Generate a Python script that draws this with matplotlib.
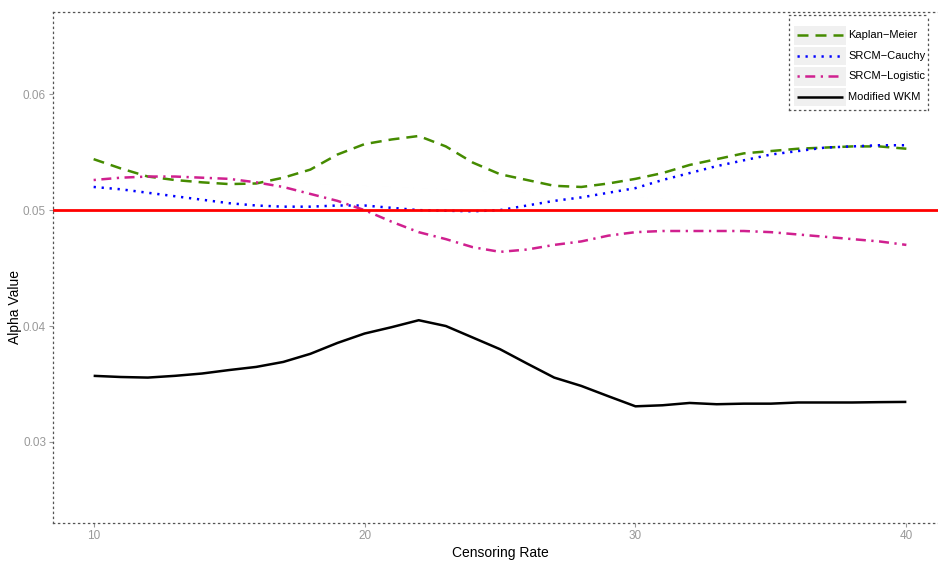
import matplotlib.pyplot as plt
from matplotlib.patches import Rectangle

plt.rcParams['font.family'] = ['Liberation Sans', 'DejaVu Sans']

# ----- Data -----
censoring_rate = list(range(10, 41))

kaplan_meier = [0.0544, 0.0536, 0.0529, 0.0526, 0.0524, 0.05225, 0.0523, 0.0528,
                0.0535, 0.0548, 0.0557, 0.0561, 0.0564, 0.0555, 0.0541, 0.0531,
                0.0526, 0.0521, 0.0520, 0.0523, 0.0527, 0.0532, 0.0539, 0.0544,
                0.0549, 0.0551, 0.0553, 0.0554, 0.0555, 0.0555, 0.0553]

srcm_cauchy = [0.0520, 0.0518, 0.0515, 0.0512, 0.0509, 0.0506, 0.0504, 0.0503,
               0.0503, 0.0504, 0.0504, 0.0502, 0.0500, 0.04995, 0.0499, 0.0500,
               0.0504, 0.0508, 0.0511, 0.0515, 0.0519, 0.0526, 0.0532, 0.0538,
               0.0543, 0.0548, 0.0551, 0.0554, 0.0555, 0.0556, 0.0556]

srcm_logistic = [0.0526, 0.0528, 0.0529, 0.0529, 0.0528, 0.0527, 0.0524, 0.0520,
                 0.0514, 0.0508, 0.0500, 0.0490, 0.0481, 0.0475, 0.0468, 0.0464,
                 0.0466, 0.0470, 0.0473, 0.0478, 0.0481, 0.0482, 0.0482, 0.0482,
                 0.0482, 0.0481, 0.0479, 0.0477, 0.0475, 0.0473, 0.0470]

modified_wkm = [0.0357, 0.0356, 0.03555, 0.0357, 0.0359, 0.0362, 0.03647, 0.0369,
                0.0376, 0.03854, 0.03935, 0.0399, 0.0405, 0.0400, 0.0390, 0.0380,
                0.03676, 0.03555, 0.03483, 0.03394, 0.03307, 0.03316, 0.03336,
                0.03325, 0.0333, 0.0333, 0.0334, 0.0334, 0.0334, 0.03343, 0.03345]

nominal_alpha = 0.05

labels = ["Kaplan\u2212Meier", "SRCM\u2212Cauchy", "SRCM\u2212Logistic", "Modified WKM"]
series = [kaplan_meier, srcm_cauchy, srcm_logistic, modified_wkm]
colors = ["#458B00", "#0000FF", "#D0208F", "#000000"]
dashes = [(4.4, 2.8), (0.9, 2.3), (0.9, 2.2, 4.0, 2.2), None]

# ----- Figure -----
W, H = 938, 561
fig = plt.figure(figsize=(W / 100, H / 100), dpi=100)

# panel in pixel coordinates (right edge runs slightly past the image)
left, right, top, bottom = 53, 947, 12, 523
ax = fig.add_axes([left / W, (H - bottom) / H, (right - left) / W, (bottom - top) / H])

for y, c, d in zip(series, colors, dashes):
    line, = ax.plot(censoring_rate, y, color=c, lw=1.8, solid_capstyle='butt')
    if d is not None:
        line.set_dashes(d)

ax.axhline(nominal_alpha, color='red', lw=2.0)

ax.set_xlim(8.5, 41.5)
ax.set_ylim(0.0230, 0.0671)
ax.set_xticks([10, 20, 30, 40])
ax.set_yticks([0.03, 0.04, 0.05, 0.06])
ax.set_yticklabels(["0.03", "0.04", "0.05", "0.06"])

ax.tick_params(colors='#999999', labelsize=8.5, length=3, width=0.8, pad=2)
dotted = (0, (1, 3))
for s in ax.spines.values():
    s.set_linestyle(dotted)
    s.set_color('#555555')
    s.set_linewidth(0.9)

fig.text(15 / W, 1 - 307 / H, "Alpha Value", rotation=90, ha='center', va='center',
         fontsize=10)
fig.text(500 / W, 1 - 553 / H, "Censoring Rate", ha='center', va='center', fontsize=10)

# ----- Legend (drawn by hand, ggplot style keys) -----
lx0, lx1, ly0, ly1 = 789, 928, 15, 110
lax = fig.add_axes([lx0 / W, (H - ly1) / H, (lx1 - lx0) / W, (ly1 - ly0) / H])
lax.set_xlim(lx0, lx1)
lax.set_ylim(ly1, ly0)
lax.set_xticks([])
lax.set_yticks([])
lax.patch.set_facecolor('white')
for s in lax.spines.values():
    s.set_linestyle(dotted)
    s.set_color('#555555')
    s.set_linewidth(0.9)

key_x0, key_x1 = 794, 846
for i, (lab, c, d) in enumerate(zip(labels, colors, dashes)):
    ky0 = 26 + i * 20.5
    lax.add_patch(Rectangle((key_x0, ky0), key_x1 - key_x0, 18.5,
                            facecolor='#F0F0F0', edgecolor='none'))
    yc = ky0 + 9.25
    kl, = lax.plot([key_x0 + 3, key_x1 - 3], [yc, yc], color=c, lw=1.8,
                   solid_capstyle='butt')
    if d is not None:
        kl.set_dashes(d)
    lax.text(848, yc, lab, fontsize=8, va='center', ha='left')

fig.savefig("out.png", dpi=100)
